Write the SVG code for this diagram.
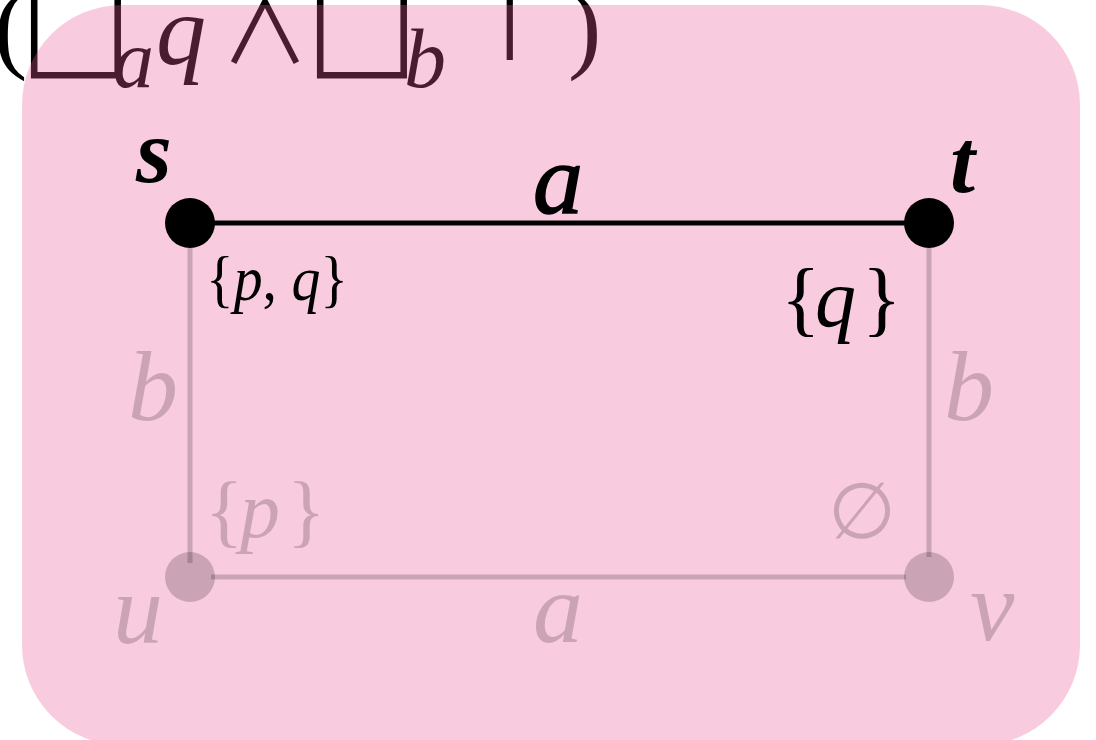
<svg xmlns="http://www.w3.org/2000/svg" width="1096" height="740" viewBox="0 0 1096 740">
<style>
.m{font-family:"Liberation Serif","DejaVu Serif",serif;fill:#000}
.i{font-style:italic}
.sym{font-family:"DejaVu Sans",sans-serif;fill:#000}
.g{fill:#000;fill-opacity:0.19}
.gl{stroke:#000;stroke-opacity:0.19;stroke-width:5;fill:none}
.bl{stroke:#000;stroke-width:5;fill:none}
</style>
<rect width="1096" height="740" fill="#fff"/>
<g id="formula">
<text class="m" x="-6" y="60" font-size="100">(</text>
<text class="sym" x="20" y="64" font-size="118">□</text>
<text class="m i" x="113" y="87" font-size="82">a</text>
<text class="m i" x="156" y="64" font-size="100">q</text>
<text x="221" y="63" font-size="88" font-weight="400" style="font-family:'Noto Sans CJK JP','DejaVu Sans',sans-serif">∧</text>
<text class="sym" x="306" y="64" font-size="118">□</text>
<text class="m i" x="404" y="87" font-size="84">b</text>
<text class="sym" x="466" y="60" font-size="100">⊤</text>
<text class="m" x="568" y="60" font-size="100">)</text>
</g>
<rect id="world" x="22" y="5" width="1058" height="740" rx="100" ry="100" fill="#EC5999" fill-opacity="0.314"/>
<g id="connectors">
<line class="bl" x1="190" y1="223" x2="929" y2="223"/>
<line class="gl" x1="190" y1="248" x2="190" y2="563"/>
<line class="gl" x1="929" y1="248" x2="929" y2="557"/>
<line class="gl" x1="211" y1="577" x2="906" y2="577"/>
<text class="m i" x="533" y="213" font-size="100" stroke="#000" stroke-width="1.5">a</text>
<text class="m i g" x="128" y="420" font-size="100">b</text>
<text class="m i g" x="944" y="420" font-size="100">b</text>
<text class="m i g" x="533" y="642" font-size="100">a</text>
</g>
<g id="node-s">
<circle cx="190" cy="223" r="25" fill="#000"/>
<text class="m i" x="136" y="182" font-size="92" font-weight="bold">s</text>
<text class="m" x="206" y="300" font-size="64" textLength="142" lengthAdjust="spacingAndGlyphs">{<tspan class="i">p</tspan>, <tspan class="i">q</tspan>}</text>
</g>
<g id="node-t">
<circle cx="929" cy="223" r="25" fill="#000"/>
<text class="m i" x="950" y="192" font-size="90" font-weight="bold">t</text>
<text class="m" x="781" y="326" font-size="82">{</text>
<text class="m i" x="815" y="326" font-size="82">q</text>
<text class="m" x="862" y="326" font-size="82">}</text>
</g>
<g id="node-u">
<circle class="g" cx="190" cy="577" r="25"/>
<text class="m i g" x="113" y="643" font-size="100">u</text>
<text class="m g" x="205" y="537" font-size="80">{</text>
<text class="m i g" x="240" y="537" font-size="80">p</text>
<text class="m g" x="287" y="537" font-size="80">}</text>
</g>
<g id="node-v">
<circle class="g" cx="929" cy="577" r="25"/>
<text class="m i g" x="970" y="640" font-size="100">v</text>
<text class="m g" x="828" y="538" font-size="78">∅</text>
</g>
</svg>
